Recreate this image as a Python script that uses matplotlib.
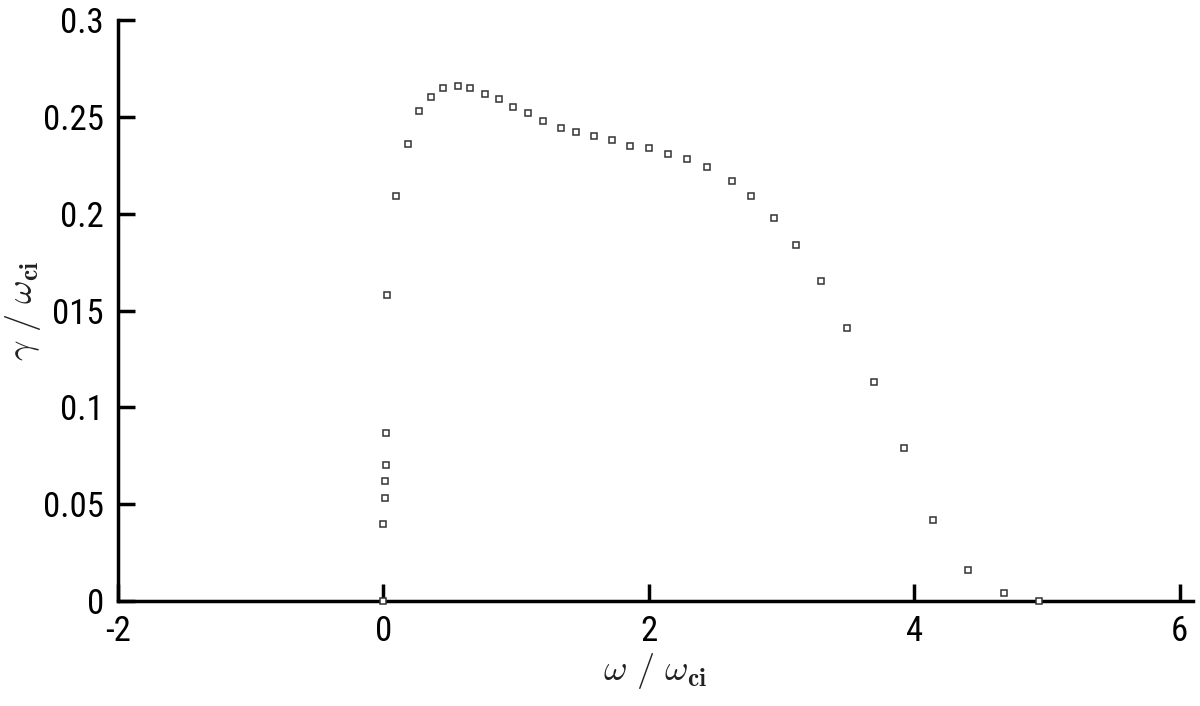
import matplotlib
matplotlib.use("Agg")
import matplotlib.pyplot as plt
from matplotlib import font_manager

# growth rate vs frequency
omega = [0.0, 0.0, 0.015, 0.015, 0.023, 0.023, 0.03, 0.098, 0.188, 0.271,
         0.362, 0.452, 0.565, 0.655, 0.768, 0.874, 0.979, 1.092, 1.205,
         1.341, 1.454, 1.590, 1.725, 1.861, 2.004, 2.147, 2.290, 2.441,
         2.629, 2.772, 2.945, 3.111, 3.299, 3.495, 3.699, 3.925, 4.143,
         4.407, 4.678, 4.942]
gamma = [0.0, 0.040, 0.053, 0.062, 0.070, 0.087, 0.158, 0.209, 0.236, 0.253,
         0.260, 0.265, 0.266, 0.265, 0.262, 0.259, 0.255, 0.252, 0.248,
         0.244, 0.242, 0.240, 0.238, 0.235, 0.234, 0.231, 0.228, 0.224,
         0.217, 0.209, 0.198, 0.184, 0.165, 0.141, 0.113, 0.079, 0.042,
         0.016, 0.004, 0.0]

xticks = [-2, 0, 2, 4, 6]
yticks = [0, 0.05, 0.1, 0.15, 0.2, 0.25, 0.3]
ytick_labels = ["0", "0.05", "0.1", "015", "0.2", "0.25", "0.3"]

# look for a narrow sans (Arial Narrow look), else plain Liberation Sans
tick_prop = font_manager.FontProperties(family="Liberation Sans", size=23)
for f in font_manager.fontManager.ttflist:
    low = f.fname.lower()
    if ("narrow" in low or "condensed" in low) and "bold" not in low \
            and "italic" not in low and "oblique" not in low and "mono" not in low \
            and "serif" not in low:
        tick_prop = font_manager.FontProperties(fname=f.fname, size=25)
        if "liberation" in low:
            break

plt.rcParams["mathtext.fontset"] = "cm"

fig = plt.figure(figsize=(12, 7.06), dpi=100)
ax = fig.add_axes([118 / 1200, 1 - 601 / 706, 1075 / 1200, 581 / 706])

ax.plot(omega, gamma, linestyle="none", marker="s", markersize=5,
        markerfacecolor="white", markeredgecolor="#333333",
        markeredgewidth=1.1, clip_on=False, zorder=5)

ax.set_xlim(-2, 6.1)
ax.set_ylim(0, 0.3)
ax.set_xticks(xticks)
ax.set_xticklabels([str(t) for t in xticks])
ax.set_yticks(yticks)
ax.set_yticklabels(ytick_labels)

for side in ["top", "right"]:
    ax.spines[side].set_visible(False)
for side in ["left", "bottom"]:
    ax.spines[side].set_linewidth(2.5)

ax.tick_params(direction="in", length=12, width=2.5, pad=10)
for lab in ax.get_xticklabels() + ax.get_yticklabels():
    lab.set_fontproperties(tick_prop)

ax.set_xlabel(r"$\omega\ /\ \omega_{\mathbf{ci}}$", fontsize=26, labelpad=2,
              color="#222222")
ax.set_ylabel(r"$\gamma\ /\ \omega_{\mathbf{ci}}$", fontsize=26, labelpad=0,
              color="#222222")

fig.savefig("out.png", dpi=100)
